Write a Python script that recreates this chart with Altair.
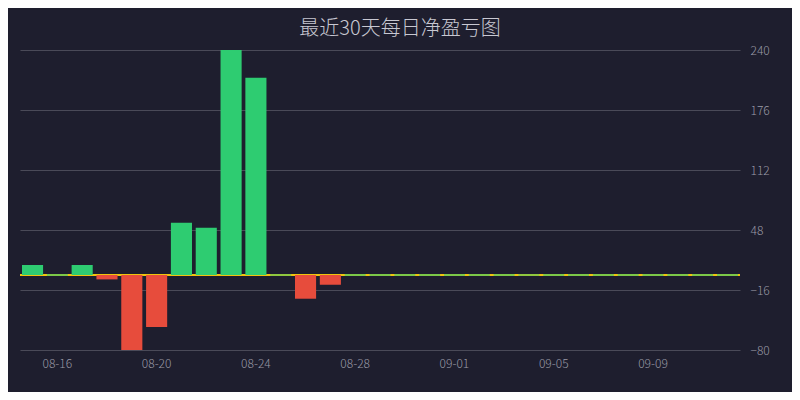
import altair as alt
import pandas as pd

dates = ["08-15", "08-16", "08-17", "08-18", "08-19", "08-20", "08-21", "08-22",
         "08-23", "08-24", "08-25", "08-26", "08-27", "08-28", "08-29", "08-30",
         "08-31", "09-01", "09-02", "09-03", "09-04", "09-05", "09-06", "09-07",
         "09-08", "09-09", "09-10", "09-11", "09-12"]
values = [10.7, 0, 10.7, -4.7, -80, -55.4, 55.8, 50.4,
          240, 210.4, 0, -25.3, -10.4, 0, 0, 0,
          0, 0, 0, 0, 0, 0, 0, 0,
          0, 0, 0, 0, 0]
x_labels = ["08-16", "08-20", "08-24", "08-28", "09-01", "09-05", "09-09"]
y_ticks = [-80, -16, 48, 112, 176, 240]

df = pd.DataFrame({"date": dates, "value": values})

GREEN = "#2ecc71"
RED = "#e74c3c"
YELLOW = "#f1c40f"
FONT = "Noto Sans CJK SC"

x_scale = alt.Scale(paddingInner=0.15, paddingOuter=0.08)
y_scale = alt.Scale(domain=[-80, 240], nice=False, zero=False)

x_axis = alt.Axis(values=x_labels, labelAngle=0, ticks=False, domain=False,
                  tickOpacity=0, tickColor="transparent",
                  labelColor="#9a9aa6", labelFontSize=12, labelFont=FONT,
                  labelFontWeight=300, labelPadding=8, grid=False, title=None)
y_axis = alt.Axis(orient="right", values=y_ticks, ticks=False, domain=False,
                  tickOpacity=0, tickColor="transparent",
                  grid=True, gridColor="#4a4a58", gridWidth=1,
                  labelColor="#9a9aa6", labelFontSize=12, labelFont=FONT,
                  labelFontWeight=300, labelPadding=10, title=None)

bars = alt.Chart(df).mark_bar().encode(
    x=alt.X("date:N", sort=dates, title=None, scale=x_scale, axis=x_axis),
    y=alt.Y("value:Q", scale=y_scale, title=None, axis=y_axis),
    y2=alt.datum(0),
    color=alt.condition(alt.datum.value >= 0, alt.value(GREEN), alt.value(RED)),
)

zero_rule = alt.Chart(df).mark_rule(color=YELLOW, strokeWidth=1).encode(
    y=alt.Y(datum=0, scale=y_scale, axis=y_axis, title=None)
)

zero_ticks = alt.Chart(df).transform_filter(alt.datum.value == 0).mark_tick(
    color=GREEN, thickness=1.2, size=21, opacity=1
).encode(
    x=alt.X("date:N", sort=dates, scale=x_scale, axis=x_axis, title=None),
    y=alt.Y("value:Q", scale=y_scale, axis=y_axis, title=None),
)

chart = alt.layer(zero_rule, bars, zero_ticks).properties(
    width=720, height=300,
    title=alt.TitleParams("最近30天每日净盈亏图", anchor="middle", font=FONT,
                          fontSize=20, fontWeight=300, color="#c8c8d2",
                          offset=5, dx=20),
    autosize=alt.AutoSizeParams(type="none"),
    padding={"left": 12, "top": 42, "right": 52, "bottom": 42},
).configure(background="#1e1e2e").configure_view(stroke=None).configure_axis(
    ticks=False, domain=False, tickOpacity=0
)

chart.save("out.html", embed_options={"renderer": "svg", "actions": False})
